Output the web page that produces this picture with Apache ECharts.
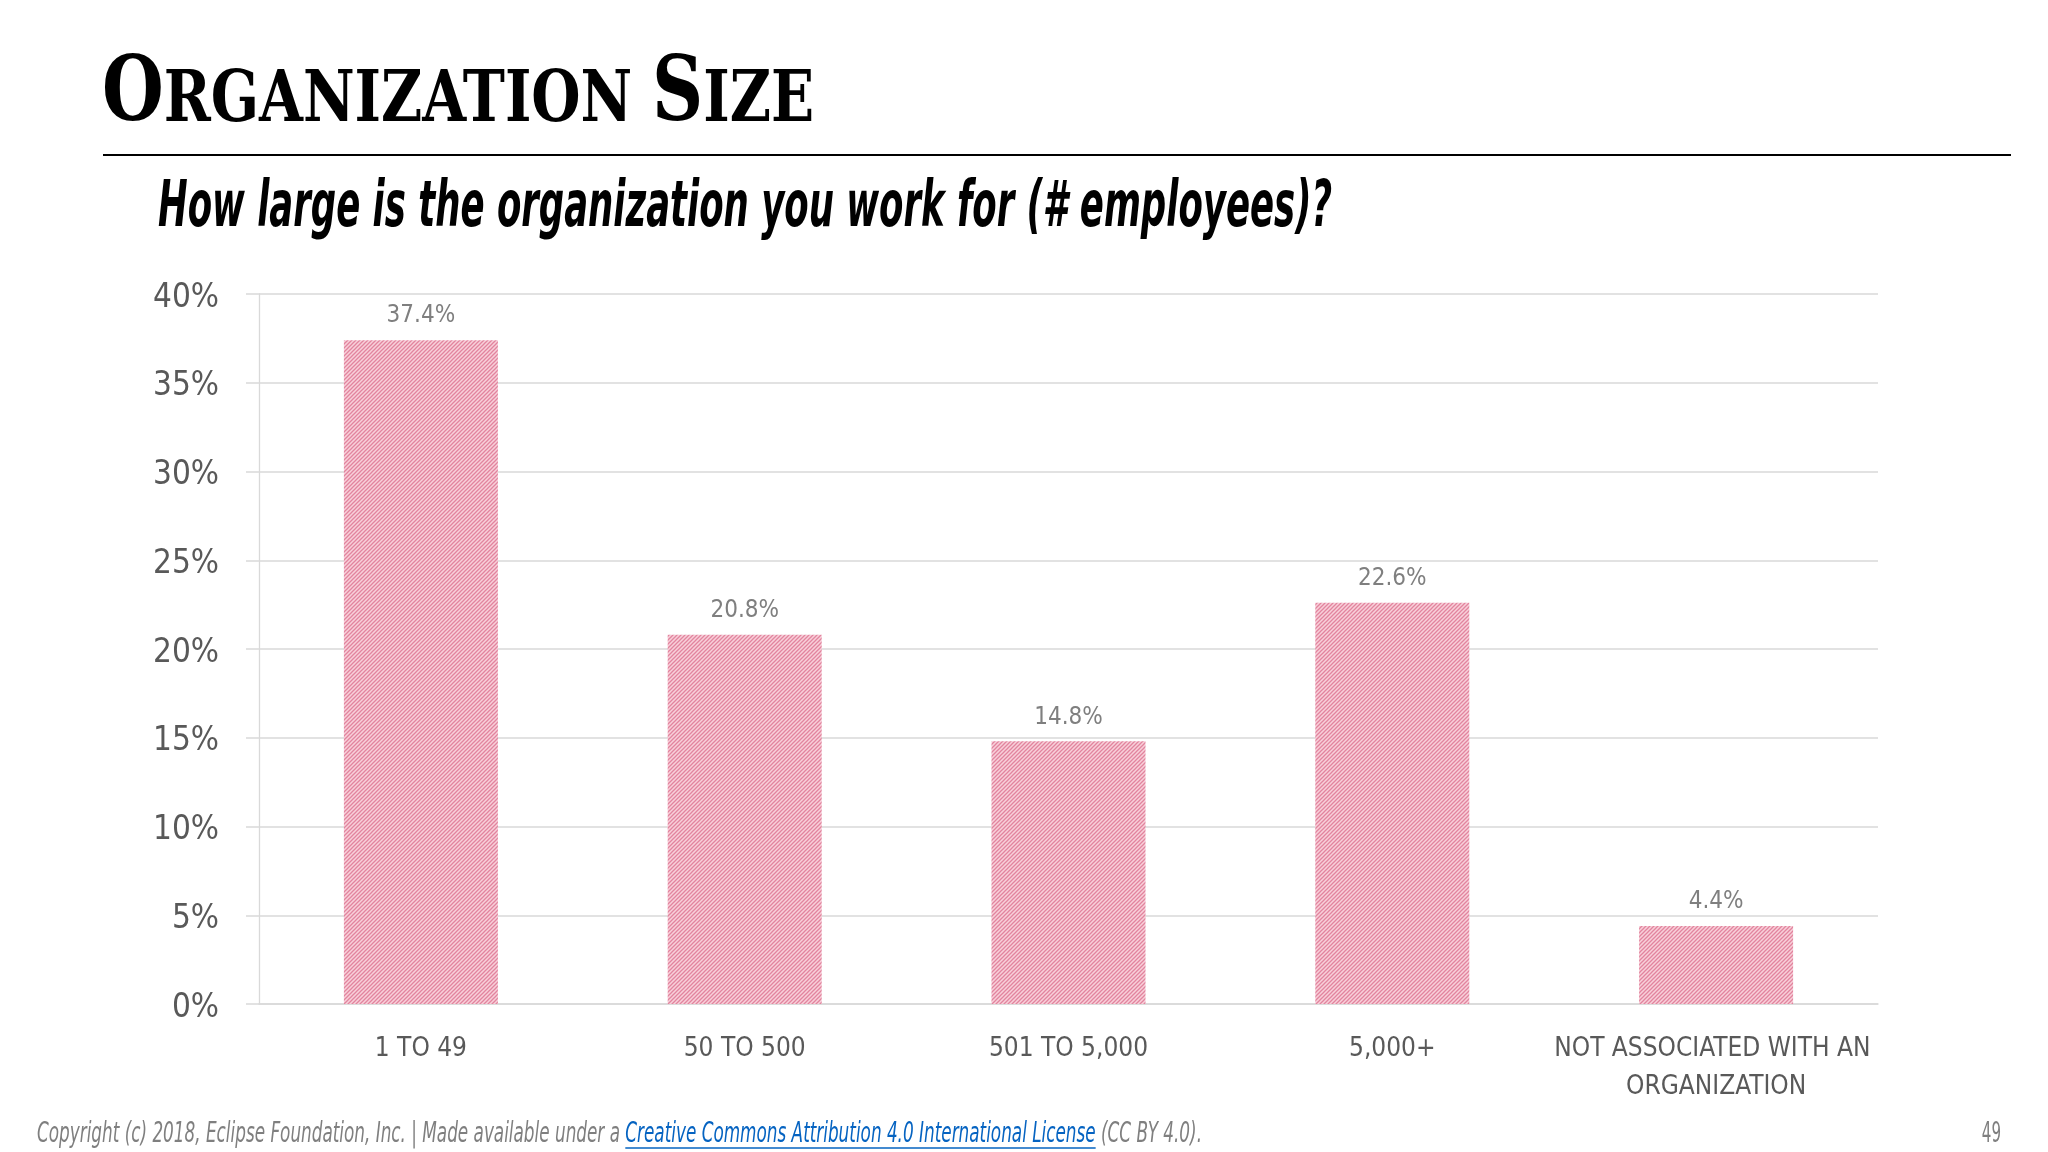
<!DOCTYPE html>
<html><head><meta charset="utf-8">
<script src="https://cdn.jsdelivr.net/npm/echarts@6/dist/echarts.min.js"></script>
<style>html,body{margin:0;padding:0;background:#fff}#c{width:2048px;height:1152px}</style>
</head><body><div id="c"></div>
<script>
const categories = ['1 TO 49', '50 TO 500', '501 TO 5,000', '5,000+', 'NOT ASSOCIATED WITH AN ORGANIZATION'];
const values = [37.4, 20.8, 14.8, 22.6, 4.4];
const yMin = 0, yMax = 40, yStep = 5;
const titleParts = [['O', 'big'], ['RGANIZATION', 'small'], [' ', 'small'], ['S', 'big'], ['IZE', 'small']];
const subtitle = 'How large is the organization you work for (# employees)?';
const footerParts = [
  ['Copyright (c) 2018, Eclipse Foundation, Inc. | Made available under a ', '#7f7f7f', false],
  ['Creative Commons Attribution 4.0 International License', '#0563c1', true],
  [' (CC BY 4.0).', '#7f7f7f', false]
];
const pageNumber = '49';

const COND = '"DejaVu Sans Condensed", "DejaVu Sans", sans-serif';
const SERIF = '"DejaVu Serif Condensed", "DejaVu Serif", serif';
const mctx = document.createElement('canvas').getContext('2d');
function tw(t, f) { mctx.font = f; return mctx.measureText(t).width; }

// hatch pattern
const pc = document.createElement('canvas'); pc.width = 4; pc.height = 4;
const p = pc.getContext('2d');
p.fillStyle = '#f8d0da'; p.fillRect(0, 0, 4, 4);
p.strokeStyle = '#e2849e'; p.lineWidth = 1.3;
p.beginPath();
p.moveTo(-1, 5); p.lineTo(5, -1);
p.moveTo(-1, 1); p.lineTo(1, -1);
p.moveTo(3, 5); p.lineTo(5, 3);
p.stroke();

// title group
const sizes = { big: 89, small: 71 };
const titleBaseline = 124;
let cx = 0; const titleChildren = [];
titleParts.forEach(([t, k]) => {
  const s = sizes[k];
  const f = 'bold ' + s + 'px ' + SERIF;
  titleChildren.push({ type: 'text', x: cx, y: -0.3 * s, style: { text: t, font: f, fill: '#000', align: 'left', verticalAlign: 'middle', textAlign: 'left', textVerticalAlign: 'middle' } });
  cx += tw(t, f);
});
const titleScale = 712 / cx;

// subtitle
const subFont = 'italic bold 64px ' + COND;
const subScale = 1174 / tw(subtitle, subFont);

// footer
const footFont = 'italic 28px ' + COND;
let fx = 0; const footChildren = [];
footerParts.forEach(([t, col, ul]) => {
  const w = tw(t, footFont);
  footChildren.push({ type: 'text', x: fx, y: 0, style: { text: t, font: footFont, fill: col, align: 'left', verticalAlign: 'middle', textAlign: 'left', textVerticalAlign: 'middle' } });
  if (ul) footChildren.push({ type: 'line', shape: { x1: fx, y1: 13, x2: fx + w, y2: 13 }, style: { stroke: col, lineWidth: 1.5 } });
  fx += w;
});
const footScale = 1165 / fx;

const chart = echarts.init(document.getElementById('c'));
chart.setOption({
  backgroundColor: '#fff',
  animation: false,
  grid: { left: 259, right: 170, top: 294, bottom: 148 },
  xAxis: {
    type: 'category', data: categories,
    axisLine: { show: true, lineStyle: { color: '#d9d9d9', width: 1.5 } },
    axisTick: { show: false },
    axisLabel: { interval: 0, color: '#595959', fontFamily: COND, fontSize: 26, margin: 26, lineHeight: 38, width: 345, overflow: 'break' }
  },
  yAxis: {
    type: 'value', min: yMin, max: yMax, interval: yStep,
    axisLine: { show: true, lineStyle: { color: '#d9d9d9', width: 1.3 } },
    axisTick: { show: true, length: 13, lineStyle: { color: '#d9d9d9', width: 1.5 } },
    splitLine: { show: true, lineStyle: { color: '#d9d9d9', width: 1.5 } },
    axisLabel: { formatter: '{value}%', color: '#595959', fontFamily: COND, fontSize: 33, margin: 40, verticalAlign: 'top', lineHeight: 8 }
  },
  series: [{
    type: 'bar', data: values, barWidth: 154,
    itemStyle: { color: { image: pc, repeat: 'repeat' } },
    label: { show: true, position: 'top', distance: 12, formatter: '{c}%', color: '#7f7f7f', fontFamily: COND, fontSize: 24 }
  }],
  graphic: [
    { type: 'group', x: 102, y: titleBaseline, scaleX: titleScale, children: titleChildren },
    { type: 'line', shape: { x1: 103, y1: 155, x2: 2011, y2: 155 }, style: { stroke: '#000', lineWidth: 2 } },
    { type: 'text', x: 158, y: 209, scaleX: subScale, style: { text: subtitle, font: subFont, fill: '#000', align: 'left', verticalAlign: 'middle', textAlign: 'left', textVerticalAlign: 'middle' } },
    { type: 'group', x: 37, y: 1135, scaleX: footScale, children: footChildren },
    { type: 'text', x: 2001, y: 1135, scaleX: 0.6, style: { text: pageNumber, font: '28px ' + COND, fill: '#7f7f7f', align: 'right', verticalAlign: 'middle', textAlign: 'right', textVerticalAlign: 'middle' } }
  ]
});
</script></body></html>
